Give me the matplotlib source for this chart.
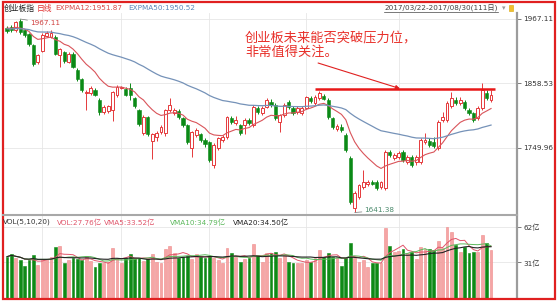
import numpy as np
import pandas as pd
import matplotlib
matplotlib.use("Agg")
import matplotlib.pyplot as plt
from matplotlib.patches import Rectangle
from matplotlib.lines import Line2D

plt.rcParams['font.family'] = ['DejaVu Sans', 'Noto Sans CJK SC']

W, H = 558, 305

# trading calendar 2017-03-22 .. 2017-08-30 (mainland exchange holidays removed)
holidays = pd.to_datetime(['2017-04-03', '2017-04-04', '2017-05-01',
                           '2017-05-29', '2017-05-30'])
dates = pd.bdate_range('2017-03-22', '2017-08-30')
dates = dates[~dates.isin(holidays)]

opens = [1952, 1953, 1949, 1964, 1948, 1942, 1923, 1895, 1913, 1939,
         1937, 1937, 1906, 1911, 1895, 1908, 1881, 1866, 1843, 1842,
         1848, 1831, 1810, 1812, 1814, 1839, 1851, 1849, 1851, 1834,
         1814, 1775, 1802, 1762, 1768, 1777, 1775, 1814, 1809, 1812,
         1800, 1789, 1750, 1772, 1773, 1763, 1760, 1721, 1750, 1763,
         1768, 1800, 1792, 1789, 1788, 1797, 1789, 1817, 1809, 1819,
         1827, 1822, 1794, 1805, 1827, 1817, 1810, 1809, 1817, 1834,
         1826, 1834, 1837, 1831, 1800, 1782, 1785, 1772, 1733, 1649,
         1668, 1684, 1689, 1693, 1693, 1684, 1683, 1743, 1733, 1735,
         1743, 1726, 1735, 1726, 1726, 1760, 1762, 1760, 1750, 1797,
         1797, 1820, 1831, 1826, 1827, 1814, 1809, 1800, 1817, 1843,
         1831]
highs = [1955, 1957, 1964, 1967.11, 1951, 1944, 1925, 1908, 1944, 1947,
         1948, 1940, 1919, 1914, 1911, 1911, 1884, 1868, 1847, 1855,
         1851, 1834, 1822, 1823, 1846, 1856, 1855, 1853, 1859, 1836,
         1816, 1805, 1804, 1776, 1778, 1788, 1816, 1834, 1818, 1815,
         1802, 1791, 1779, 1783, 1776, 1766, 1762, 1758, 1769, 1771,
         1804, 1803, 1803, 1791, 1800, 1800, 1822, 1820, 1820, 1834,
         1832, 1825, 1808, 1825, 1830, 1820, 1820, 1820, 1838, 1838,
         1839, 1846, 1841, 1834, 1802, 1790, 1790, 1775, 1736, 1677,
         1690, 1713, 1696, 1696, 1696, 1695, 1746, 1747, 1742, 1745,
         1746, 1738, 1738, 1738, 1766, 1775, 1766, 1768, 1797, 1810,
         1829, 1845, 1836, 1836, 1830, 1817, 1811, 1820, 1859, 1847,
         1847]
lows = [1944, 1946, 1946, 1942, 1937, 1922, 1888, 1892, 1911, 1937,
        1935, 1906, 1886, 1893, 1893, 1884, 1863, 1845, 1814, 1840,
        1837, 1806, 1807, 1809, 1795, 1836, 1850, 1837, 1830, 1818,
        1787, 1772, 1770, 1731, 1762, 1774, 1770, 1811, 1806, 1799,
        1785, 1757, 1735, 1769, 1760, 1752, 1727, 1716, 1747, 1760,
        1765, 1790, 1789, 1771, 1773, 1789, 1786, 1808, 1806, 1817,
        1819, 1797, 1777, 1802, 1816, 1806, 1807, 1806, 1815, 1826,
        1823, 1831, 1830, 1799, 1782, 1779, 1777, 1744, 1656, 1641.38,
        1664, 1681, 1686, 1687, 1680, 1681, 1680, 1735, 1730, 1732,
        1727, 1723, 1718, 1722, 1723, 1757, 1752, 1750, 1746, 1794,
        1794, 1817, 1823, 1823, 1814, 1806, 1794, 1797, 1814, 1831,
        1828]
closes = [1947, 1949, 1962, 1945, 1940, 1925, 1891, 1906, 1940, 1943,
          1944, 1908, 1916, 1896, 1908, 1886, 1866, 1848, 1845, 1851,
          1839, 1810, 1819, 1821, 1844, 1853, 1853, 1839, 1839, 1821,
          1790, 1802, 1773, 1773, 1775, 1785, 1814, 1822, 1814, 1802,
          1789, 1760, 1777, 1780, 1763, 1756, 1730, 1755, 1767, 1768,
          1802, 1794, 1797, 1775, 1797, 1792, 1819, 1811, 1817, 1831,
          1822, 1800, 1805, 1822, 1819, 1809, 1817, 1817, 1836, 1829,
          1836, 1843, 1833, 1802, 1785, 1787, 1780, 1747, 1659, 1674,
          1688, 1693, 1692, 1690, 1683, 1692, 1743, 1738, 1738, 1741,
          1730, 1735, 1721, 1735, 1763, 1764, 1755, 1754, 1793, 1802,
          1826, 1834, 1826, 1831, 1817, 1809, 1797, 1817, 1847, 1834,
          1839]
# turnover, 亿
volumes = [36.0, 38.3, 34.6, 33.1, 27.9, 33.1, 37.5, 28.7, 33.7, 33.7,
           36.0, 44.7, 45.3, 30.8, 33.1, 34.6, 33.7, 33.1, 36.6, 32.2,
           27.3, 30.2, 30.2, 31.7, 43.8, 34.6, 30.8, 34.6, 38.3, 34.6,
           34.6, 32.2, 33.7, 38.3, 31.7, 30.2, 42.4, 45.3, 39.5, 34.6,
           36.0, 36.6, 33.7, 38.3, 36.0, 34.6, 36.6, 34.6, 33.1, 30.8,
           43.3, 39.5, 36.0, 31.7, 33.7, 34.6, 46.7, 37.5, 31.7, 39.5,
           39.5, 40.4, 35.0, 37.5, 31.7, 30.2, 30.2, 30.2, 33.1, 31.7,
           34.6, 41.8, 36.0, 38.9, 36.0, 35.4, 27.9, 34.6, 47.6, 34.6,
           31.7, 33.1, 27.3, 30.8, 30.2, 30.8, 60.7, 45.3, 40.4, 41.2,
           42.4, 38.9, 40.4, 33.7, 44.7, 42.4, 42.4, 41.8, 49.9, 43.3,
           62.1, 57.8, 46.2, 40.4, 44.7, 38.9, 40.4, 40.4, 54.9, 47.6,
           41.8]

expma12_start = 1951.87
expma50_start = 1950.52
resistance = 1848.5
resistance_from = 70
price_ticks = [1749.96, 1858.53, 1967.11]
vol_ticks = [31, 62]
note_lines = ['创业板未来能否突破压力位，', '非常值得关注。']

RED = '#e5393b'
GREEN = '#0b8a16'


def expma(values, start, n):
    a = 2.0 / (n + 1)
    out = [start]
    for v in values[1:]:
        out.append(out[-1] + a * (v - out[-1]))
    return np.array(out)


o = np.array(opens, float)
h = np.array(highs, float)
l = np.array(lows, float)
c = np.array(closes, float)
v = np.array(volumes, float)
idx = np.arange(len(dates))
up = c >= o
month_starts = [i for i in range(1, len(dates)) if dates[i].month != dates[i - 1].month]

ema12 = expma(c, expma12_start, 12)
ema50 = expma(c, expma50_start, 50)
vs = pd.Series(v)
vma5 = vs.rolling(5, min_periods=1).mean()
vma10 = vs.rolling(10, min_periods=1).mean()
vma20 = vs.rolling(20, min_periods=1).mean()

fig = plt.figure(figsize=(W / 100, H / 100), dpi=100)
fig.patch.set_facecolor('white')


def rect(x0, y0, x1, y1):
    return [x0 / W, 1 - y1 / H, (x1 - x0) / W, (y1 - y0) / H]


def fx(x):
    return x / W


def fy(y):
    return 1 - y / H


axp = fig.add_axes(rect(3, 13, 517, 214))
axv = fig.add_axes(rect(3, 216, 517, 298))

xlim = (-0.91, 115.9)
for ax in (axp, axv):
    ax.set_xlim(*xlim)
    ax.set_facecolor('white')
    for s in ('left', 'top', 'bottom'):
        ax.spines[s].set_visible(False)
    ax.spines['right'].set_color('#9c9c9c')
    ax.spines['right'].set_linewidth(1.6)
    ax.yaxis.tick_right()
    ax.set_xticks(month_starts)
    ax.tick_params(axis='x', length=0, labelbottom=False)
    ax.tick_params(axis='y', length=3, width=0.6, color='#666666', pad=1.5,
                   labelsize=5.2, labelcolor='#333333')
    ax.grid(True, color='#e6e6e6', lw=0.6, zorder=0)
    ax.set_axisbelow(True)

# price panel
axp.set_ylim(1638.85, 1977.2)
axp.set_yticks(price_ticks)
axp.set_yticklabels(['%.2f' % t for t in price_ticks])

axp.vlines(idx[up], l[up], h[up], color=RED, lw=0.7, zorder=2)
axp.vlines(idx[~up], l[~up], h[~up], color=GREEN, lw=0.7, zorder=2)
body_lo = np.minimum(o, c)
body_h = np.maximum(np.abs(c - o), 0.6)
axp.bar(idx[up], body_h[up], bottom=body_lo[up], width=0.62,
        facecolor='white', edgecolor=RED, lw=0.7, zorder=3)
axp.bar(idx[~up], body_h[~up], bottom=body_lo[~up], width=0.72,
        facecolor=GREEN, edgecolor=GREEN, lw=0.4, zorder=3)

axp.plot(idx, ema12, color='#d9545a', lw=0.8, zorder=4)
axp.plot(idx, ema50, color='#7592b8', lw=0.9, zorder=4)

axp.hlines(resistance, resistance_from, idx[-1] + 0.9, color='#e81818', lw=1.8, zorder=5)
axp.annotate('', xy=(89.3, resistance + 1.5), xytext=(70.7, 1893),
             arrowprops=dict(arrowstyle='-|>', color='#e02020', lw=0.8,
                             mutation_scale=6, shrinkA=0, shrinkB=0), zorder=6)

i_hi = int(np.argmax(h))
i_lo = int(np.argmin(l))
axp.annotate('%.2f' % h[i_hi], xy=(i_hi, h[i_hi]), xytext=(10, -4),
             textcoords='offset pixels', fontsize=5.2, color='#d0403f',
             va='center', ha='left',
             arrowprops=dict(arrowstyle='-', color='#777777', lw=0.5,
                             shrinkA=0, shrinkB=0))
axp.annotate('%.2f' % l[i_lo], xy=(i_lo, l[i_lo]), xytext=(10, 2),
             textcoords='offset pixels', fontsize=5.2, color='#4a8a6c',
             va='center', ha='left', annotation_clip=False,
             arrowprops=dict(arrowstyle='-', color='#777777', lw=0.5,
                             shrinkA=0, shrinkB=0))

# volume panel
axv.set_ylim(0, 71.4)
axv.set_yticks(vol_ticks)
axv.set_yticklabels(['%d亿' % t for t in vol_ticks])
axv.bar(idx[up], v[up], width=0.62, facecolor='#f5a5a5', edgecolor='#f08a8a',
        lw=0.4, zorder=2)
axv.bar(idx[~up], v[~up], width=0.62, facecolor='#0e8a16', edgecolor='#0e8a16',
        lw=0.4, zorder=2)
axv.plot(idx, vma5, color='#e0556a', lw=0.7, zorder=3)
axv.plot(idx, vma10, color='#5cb85c', lw=0.7, zorder=3)
axv.plot(idx, vma20, color='#222222', lw=0.8, zorder=3)

# panel separator and outer frame
fig.add_artist(Line2D([fx(3), fx(517)], [fy(215), fy(215)], color='#a8a8a8', lw=1.5,
                      transform=fig.transFigure))
fig.add_artist(Rectangle((fx(3), fy(299)), (555 - 3) / W, (299 - 2) / H,
                         transform=fig.transFigure, fill=False,
                         edgecolor='#e02020', lw=1.6))

# header of the price panel
hy = fy(8)
fig.text(fx(4), hy, '创业板指', fontsize=5.6, color='#222222', va='center')
fig.text(fx(37), hy, '日线', fontsize=5.6, color='#e03030', va='center')
fig.text(fx(55), hy, 'EXPMA12:%.2f' % expma12_start, fontsize=5.2, color='#d84a4a', va='center')
fig.text(fx(128), hy, 'EXPMA50:%.2f' % expma50_start, fontsize=5.2, color='#5a87b8', va='center')
period = '%s-%s(%d日)' % (dates[0].strftime('%Y/%m/%d'), dates[-1].strftime('%Y/%m/%d'), len(dates))
fig.text(fx(384), hy, period, fontsize=5.2, color='#444444', va='center')
fig.add_artist(Line2D([fx(384), fx(498)], [fy(11.8), fy(11.8)], color='#444444', lw=0.5,
                      transform=fig.transFigure))
fig.text(fx(502), hy, '▾', fontsize=5, color='#999999', va='center')
fig.add_artist(Rectangle((fx(509), fy(11)), 4 / W, 6 / H, transform=fig.transFigure,
                         facecolor='#f0c030', edgecolor='#d9a400', lw=0.4))

# header of the volume panel
vy = fy(222)
fig.text(fx(3), vy, 'VOL(5,10,20)', fontsize=5.2, color='#333333', va='center')
fig.text(fx(57), vy, 'VOL:27.76亿', fontsize=5.2, color='#e0556a', va='center')
fig.text(fx(104), vy, 'VMA5:33.52亿', fontsize=5.2, color='#e0556a', va='center')
fig.text(fx(170), vy, 'VMA10:34.79亿', fontsize=5.2, color='#5cb85c', va='center')
fig.text(fx(233), vy, 'VMA20:34.50亿', fontsize=5.2, color='#222222', va='center')

# commentary
fig.text(fx(245), fy(38), note_lines[0], fontsize=9.5, color='#e8302a', va='center',
         family=['Noto Sans CJK SC'])
fig.text(fx(245), fy(52), note_lines[1], fontsize=9.5, color='#e8302a', va='center',
         family=['Noto Sans CJK SC'])

fig.savefig('out.png', dpi=100)
